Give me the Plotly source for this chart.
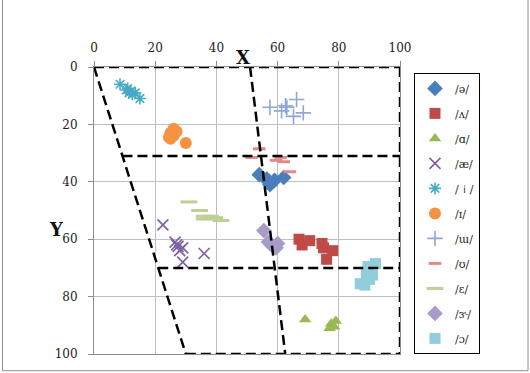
import plotly.graph_objects as go

# ---- data (x = formant-based X, y = Y) ----
labels = ["/ə/", "/ʌ/", "/ɑ/", "/æ/", "/ｉ/", "/ɪ/", "/ɯ/", "/ʊ/", "/ɛ/", "/ɝ/", "/ɔ/"]

schwa_x = [54, 56.5, 57.5, 59, 62, 57]
schwa_y = [37.5, 39, 41, 39.5, 38.5, 40]
wedge_x = [67, 68, 70.5, 74.5, 75, 78, 76]
wedge_y = [60, 62, 60.5, 61.5, 63, 64, 67]
alpha_x = [69, 77.5, 79, 77, 78.5]
alpha_y = [88, 89.5, 88.5, 91, 90.5]
ae_x = [22.5, 26.5, 27.5, 28, 29, 27, 29, 36]
ae_y = [55, 61, 62.5, 64, 63, 62, 68, 65]
i_x = [8.5, 10.5, 11, 11.5, 12, 12.5, 13.5, 15]
i_y = [6, 8, 7.5, 9, 8.5, 9.5, 9, 11]
ih_x = [25, 25, 26, 27, 26, 30, 24.5]
ih_y = [23, 25, 24, 22.5, 21.5, 26.5, 24.5]
u_x = [57.5, 61.3, 63, 66.2, 65.2, 68.4, 62.6]
u_y = [14, 15.3, 14, 11.3, 17.2, 16, 13.5]
uh_x = [51.5, 54, 59.5, 61, 62, 64]
uh_y = [31.5, 28.5, 32.5, 31.5, 33, 36.5]
eh_x = [31, 34.5, 36, 38, 39.5, 41.5, 36]
eh_y = [47, 50, 52, 52, 52.5, 53.5, 53]
er_x = [55.5, 57, 59.5, 58, 60]
er_y = [57, 61, 63, 62, 61.5]
oh_x = [92, 89.5, 89, 91, 87, 88.5, 90]
oh_y = [68.5, 69.5, 72, 72.5, 75.5, 76, 74]

xs = [schwa_x, wedge_x, alpha_x, ae_x, i_x, ih_x, u_x, uh_x, eh_x, er_x, oh_x]
ys = [schwa_y, wedge_y, alpha_y, ae_y, i_y, ih_y, u_y, uh_y, eh_y, er_y, oh_y]

colors = ["#4A7EBB", "#BE4B48", "#98B954", "#7D60A0", "#46AAC5", "#F69240",
          "#8EA6D8", "#E08A88", "#BCD193", "#A99BC8", "#92CDDC"]
symbols = ["diamond", "square", "triangle-up", "x-thin", "asterisk", "circle",
           "cross-thin", "line-ew", "line-ew", "diamond", "square"]
sizes = [12, 11, 11, 11, 10, 12, 11, 9, 12, 12, 11]

# trapezoid guide lines (x0, y0, x1, y1)
guide_segments = [
    (0, 0, 100, 0),
    (100, 0, 100, 100),
    (30, 100, 100, 100),
    (0, 0, 30, 100),
    (51, 0, 62.5, 100),
    (9.3, 31, 100, 31),
    (21, 70, 100, 70),
]

fig = go.Figure()
for k in range(len(labels)):
    sym = symbols[k]
    marker = dict(symbol=sym, size=sizes[k], color=colors[k])
    if sym in ("x-thin", "asterisk", "cross-thin", "line-ew"):
        marker["line"] = dict(color=colors[k], width=1.6 if sym != "line-ew" else 3)
    else:
        marker["line"] = dict(width=0)
    fig.add_trace(go.Scatter(
        x=xs[k], y=ys[k], mode="markers", name=labels[k], marker=marker,
        legendgroup=str(k),
    ))

for (x0, y0, x1, y1) in guide_segments:
    fig.add_shape(type="line", x0=x0, y0=y0, x1=x1, y1=y1, xref="x", yref="y",
                  line=dict(color="black", width=2.5, dash="10px,5px"), layer="above")

# outer chart border
fig.add_shape(type="rect", xref="paper", yref="paper",
              x0=(2.5 - 94) / 306, x1=(528 - 94) / 306,
              y0=(359 - 376) / 292, y1=(359 + 3) / 292,
              line=dict(color="#8c8c8c", width=1), layer="below")

axis_font = dict(family="DejaVu Serif", size=12, color="#222")
fig.update_xaxes(range=[0, 100], dtick=20, side="top", showgrid=True,
                 gridcolor="#bfbfbf", gridwidth=1, showline=True, linecolor="#8c8c8c",
                 mirror=True, ticks="outside", ticklen=5, tickcolor="#8c8c8c",
                 zeroline=False, tickfont=axis_font, ticklabelstandoff=4)
fig.update_yaxes(range=[100, 0], dtick=20, showgrid=True,
                 gridcolor="#bfbfbf", gridwidth=1, showline=True, linecolor="#8c8c8c",
                 mirror=True, ticks="outside", ticklen=5, tickcolor="#8c8c8c",
                 zeroline=False, tickfont=axis_font, ticklabelstandoff=8)

fig.add_annotation(text="<b>X</b>", xref="paper", yref="paper",
                   x=(243 - 94) / 306, y=(359 - 45) / 292, showarrow=False,
                   font=dict(family="DejaVu Serif", size=18, color="#111"))
fig.add_annotation(text="<b>Y</b>", xref="paper", yref="paper",
                   x=(47 - 94) / 306, y=(359 - 232) / 292, showarrow=False,
                   font=dict(family="DejaVu Serif", size=18, color="#111"))

fig.update_layout(
    width=530, height=373,
    margin=dict(l=94, r=130, t=67, b=14),
    plot_bgcolor="white", paper_bgcolor="white",
    legend=dict(x=(414 - 94) / 306, y=(359 - 73) / 292, xanchor="left", yanchor="top",
                bordercolor="black", borderwidth=1, bgcolor="white",
                font=dict(family="DejaVu Serif", size=11, color="#222"),
                tracegroupgap=6, itemwidth=30),
)

fig.write_html("out.html")
